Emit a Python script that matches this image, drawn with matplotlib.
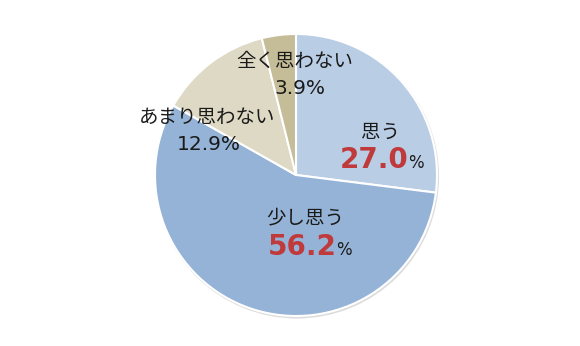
import matplotlib
matplotlib.use("Agg")
import matplotlib.pyplot as plt
from matplotlib.patches import Circle

labels = ["思う", "少し思う", "あまり思わない", "全く思わない"]
values = [27.0, 56.2, 12.9, 3.9]
colors = ["#B9CDE5", "#95B3D7", "#DDD9C4", "#C4BD97"]
value_text = ["27.0", "56.2", "12.9", "3.9"]

plt.rcParams['font.family'] = ['Noto Sans CJK JP', 'DejaVu Sans']

W, H = 580, 346
fig = plt.figure(figsize=(W / 100, H / 100), dpi=100)
ax = fig.add_axes([0, 0, 1, 1])

cx, cy, r = 296, H - 175, 141
ax.add_patch(Circle((cx + 1, cy - 1.5), r + 1, facecolor='#dcdcdc', edgecolor='none', zorder=0))
ax.pie(values, colors=colors, startangle=90, counterclock=False,
       center=(cx, cy), radius=r, frame=True,
       wedgeprops=dict(edgecolor='white', linewidth=1.5))
ax.set_xlim(0, W)
ax.set_ylim(0, H)
ax.set_aspect('equal')
ax.axis('off')

dark = "#1a1a1a"
red = "#C0393B"
numfont = ['DejaVu Sans']

def lbl(x, y, s):
    ax.text(x, H - y, s, ha='center', va='center', fontsize=14, color=dark)

def numlbl(x, y, s):
    ax.text(x, H - y, s, ha='center', va='center', fontsize=14.5, color=dark,
            family=numfont)

def bignum(x_left, y_base, s):
    t = ax.text(x_left, H - y_base, s, ha='left', va='baseline', fontsize=20,
                fontweight='bold', color=red, family=numfont)
    fig.canvas.draw()
    bb = t.get_window_extent()
    x_right = ax.transData.inverted().transform((bb.x1, bb.y0))[0]
    ax.text(x_right - 1, H - y_base, "%", ha='left', va='baseline', fontsize=12,
            color=dark, family=numfont)

# 思う
lbl(380, 132, labels[0])
bignum(340, 168, value_text[0])

# 少し思う
lbl(305, 218, labels[1])
bignum(268, 255, value_text[1])

# あまり思わない
lbl(207, 117, labels[2])
numlbl(209, 145, value_text[2] + "%")

# 全く思わない
lbl(295, 61, labels[3])
numlbl(300, 88, value_text[3] + "%")

fig.savefig("out.png", dpi=100, facecolor='white')
